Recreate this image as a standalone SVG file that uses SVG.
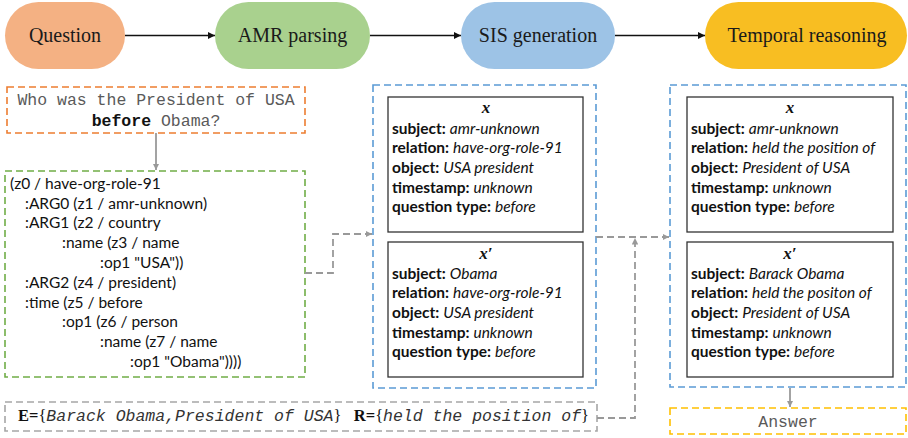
<svg xmlns="http://www.w3.org/2000/svg" width="908" height="438" viewBox="0 0 908 438">
  <style>
    .stage { font-family: "Liberation Serif", "Times New Roman", serif; font-size: 20px; fill: #1a1a1a; text-anchor: middle; }
    .mono { font-family: "Liberation Mono", "Courier New", monospace; font-size: 16.5px; fill: #5a5a5a; }
    .amr { font-family: Lato, "Open Sans", sans-serif; font-size: 15.5px; fill: #111; }
    .sis { font-family: Lato, "Open Sans", sans-serif; font-size: 15.5px; fill: #111; }
    .sis .k { font-weight: bold; }
    .sis .v { font-style: italic; }
    .var { font-family: "Liberation Serif", "Times New Roman", serif; font-size: 17px; font-weight: bold; font-style: italic; fill: #111; text-anchor: middle; }
    .card { fill: #fff; stroke: #333; stroke-width: 1.3; }
    .dash { fill: none; stroke-width: 1.6; stroke-dasharray: 7 4; }
    .flow { stroke: #111; stroke-width: 1.6; fill: none; }
    .link { stroke: #999; stroke-width: 1.8; fill: none; }
    .linkd { stroke: #999; stroke-width: 1.8; fill: none; stroke-dasharray: 7 4; }
  </style>
  <defs>
    <marker id="blk" viewBox="0 0 10 10" refX="10" refY="5" markerWidth="7" markerHeight="7" markerUnits="userSpaceOnUse" orient="auto">
      <path d="M0,0 L10,5 L0,10 z" fill="#111"/>
    </marker>
    <marker id="gry" viewBox="0 0 10 10" refX="10" refY="5" markerWidth="6.5" markerHeight="6.5" markerUnits="userSpaceOnUse" orient="auto">
      <path d="M0,0 L10,5 L0,10 z" fill="#999"/>
    </marker>
  </defs>
  <rect width="908" height="438" fill="#fff"/>

  <!-- pipeline stages -->
  <g id="stage-question">
    <rect x="5" y="2" width="120" height="67" rx="33.5" fill="#F4B183"/>
    <text class="stage" x="65" y="42">Question</text>
  </g>
  <g id="stage-amr">
    <rect x="215" y="2" width="155" height="67" rx="33.5" fill="#A9D18E"/>
    <text class="stage" x="292.5" y="42">AMR parsing</text>
  </g>
  <g id="stage-sis">
    <rect x="461" y="2" width="154" height="67" rx="33.5" fill="#9DC3E6"/>
    <text class="stage" x="538" y="42">SIS generation</text>
  </g>
  <g id="stage-temporal">
    <rect x="705" y="2" width="202" height="67" rx="33.5" fill="#F8BE22"/>
    <text class="stage" x="807" y="42">Temporal reasoning</text>
  </g>

  <!-- question text -->
  <g id="question-box">
    <rect class="dash" x="7" y="87" width="298" height="46" stroke="#ED7D31"/>
    <text class="mono" x="156" y="105" text-anchor="middle">Who was the President of USA</text>
    <text class="mono" x="156" y="126" text-anchor="middle"><tspan font-weight="bold" fill="#111">before</tspan> Obama?</text>
  </g>

  <!-- AMR graph -->
  <g id="amr-box">
    <rect class="dash" x="5" y="171" width="300" height="206" stroke="#70AD47"/>
    <text class="amr">
      <tspan x="10" y="189">(z0 / have-org-role-91</tspan>
      <tspan x="25" y="209">:ARG0 (z1 / amr-unknown)</tspan>
      <tspan x="25" y="228">:ARG1 (z2 / country</tspan>
      <tspan x="62" y="248">:name (z3 / name</tspan>
      <tspan x="100" y="268">:op1 "USA"))</tspan>
      <tspan x="25" y="288">:ARG2 (z4 / president)</tspan>
      <tspan x="25" y="308">:time (z5 / before</tspan>
      <tspan x="62" y="327">:op1 (z6 / person</tspan>
      <tspan x="100" y="347">:name (z7 / name</tspan>
      <tspan x="130" y="367">:op1 "Obama"))))</tspan>
    </text>
  </g>

  <!-- SIS from AMR -->
  <g id="sis-box">
    <rect class="dash" x="373" y="85" width="223" height="303" stroke="#5B9BD5"/>
    <rect class="card" x="388" y="97" width="195" height="135"/>
    <text class="var" x="486" y="113">x</text>
    <text class="sis">
      <tspan x="392" y="134"><tspan class="k">subject:</tspan> <tspan class="v">amr-unknown</tspan></tspan>
      <tspan x="392" y="153"><tspan class="k">relation:</tspan> <tspan class="v">have-org-role-91</tspan></tspan>
      <tspan x="392" y="173"><tspan class="k">object:</tspan> <tspan class="v">USA president</tspan></tspan>
      <tspan x="392" y="193"><tspan class="k">timestamp:</tspan> <tspan class="v">unknown</tspan></tspan>
      <tspan x="392" y="212"><tspan class="k">question type:</tspan> <tspan class="v">before</tspan></tspan>
    </text>
    <rect class="card" x="388" y="242" width="195" height="135"/>
    <text class="var" x="486" y="259">x′</text>
    <text class="sis">
      <tspan x="392" y="279"><tspan class="k">subject:</tspan> <tspan class="v">Obama</tspan></tspan>
      <tspan x="392" y="298"><tspan class="k">relation:</tspan> <tspan class="v">have-org-role-91</tspan></tspan>
      <tspan x="392" y="318"><tspan class="k">object:</tspan> <tspan class="v">USA president</tspan></tspan>
      <tspan x="392" y="338"><tspan class="k">timestamp:</tspan> <tspan class="v">unknown</tspan></tspan>
      <tspan x="392" y="357"><tspan class="k">question type:</tspan> <tspan class="v">before</tspan></tspan>
    </text>
  </g>

  <!-- SIS after entity/relation linking -->
  <g id="reasoning-box">
    <rect class="dash" x="670" y="85" width="236" height="302" stroke="#5B9BD5"/>
    <rect class="card" x="687" y="97" width="206" height="135"/>
    <text class="var" x="790" y="113">x</text>
    <text class="sis">
      <tspan x="691" y="134"><tspan class="k">subject:</tspan> <tspan class="v">amr-unknown</tspan></tspan>
      <tspan x="691" y="153"><tspan class="k">relation:</tspan> <tspan class="v">held the position of</tspan></tspan>
      <tspan x="691" y="173"><tspan class="k">object:</tspan> <tspan class="v">President of USA</tspan></tspan>
      <tspan x="691" y="193"><tspan class="k">timestamp:</tspan> <tspan class="v">unknown</tspan></tspan>
      <tspan x="691" y="212"><tspan class="k">question type:</tspan> <tspan class="v">before</tspan></tspan>
    </text>
    <rect class="card" x="687" y="242" width="206" height="135"/>
    <text class="var" x="790" y="259">x′</text>
    <text class="sis">
      <tspan x="691" y="279"><tspan class="k">subject:</tspan> <tspan class="v">Barack Obama</tspan></tspan>
      <tspan x="691" y="298"><tspan class="k">relation:</tspan> <tspan class="v">held the positon of</tspan></tspan>
      <tspan x="691" y="318"><tspan class="k">object:</tspan> <tspan class="v">President of USA</tspan></tspan>
      <tspan x="691" y="338"><tspan class="k">timestamp:</tspan> <tspan class="v">unknown</tspan></tspan>
      <tspan x="691" y="357"><tspan class="k">question type:</tspan> <tspan class="v">before</tspan></tspan>
    </text>
  </g>

  <!-- linked entities and relations -->
  <g id="linking-box">
    <rect class="dash" x="5" y="402" width="592" height="29" stroke="#A6A6A6"/>
    <text x="18" y="421" font-size="16.5px">
      <tspan font-family="Liberation Serif, serif" font-weight="bold" fill="#111">E=</tspan><tspan font-family="Liberation Serif, serif" fill="#111">{</tspan><tspan font-family="Liberation Mono, monospace" font-style="italic" fill="#333">Barack Obama,President of USA</tspan><tspan font-family="Liberation Serif, serif" fill="#111">}</tspan><tspan font-family="Liberation Serif, serif" fill="#111" xml:space="preserve">   </tspan><tspan font-family="Liberation Serif, serif" font-weight="bold" fill="#111">R=</tspan><tspan font-family="Liberation Serif, serif" fill="#111">{</tspan><tspan font-family="Liberation Mono, monospace" font-style="italic" fill="#333">held the position of</tspan><tspan font-family="Liberation Serif, serif" fill="#111">}</tspan>
    </text>
  </g>

  <!-- answer -->
  <g id="answer-box">
    <rect class="dash" x="670" y="408" width="236" height="26" stroke="#FFC000"/>
    <text class="mono" x="788" y="427" text-anchor="middle" font-size="16px">Answer</text>
  </g>

  <!-- connectors -->
  <g id="connectors">
    <line class="flow" x1="125" y1="35.5" x2="215" y2="35.5" marker-end="url(#blk)"/>
    <line class="flow" x1="370" y1="35.5" x2="461" y2="35.5" marker-end="url(#blk)"/>
    <line class="flow" x1="615" y1="35.5" x2="705" y2="35.5" marker-end="url(#blk)"/>
    <line class="link" x1="156" y1="133" x2="156" y2="170" marker-end="url(#gry)"/>
    <polyline class="linkd" points="305,273 333,273 333,234 372,234" marker-end="url(#gry)"/>
    <line class="linkd" x1="596" y1="237" x2="669" y2="237" marker-end="url(#gry)"/>
    <polyline class="linkd" points="597,418 635,418 635,238" marker-end="url(#gry)"/>
    <line class="link" x1="790" y1="388" x2="790" y2="407" marker-end="url(#gry)"/>
  </g>
</svg>
